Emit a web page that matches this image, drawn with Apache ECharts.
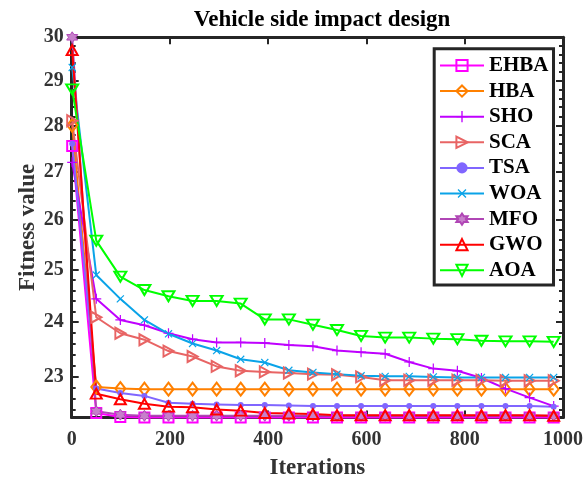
<!DOCTYPE html>
<html>
<head>
<meta charset="utf-8">
<script src="https://cdn.jsdelivr.net/npm/echarts@6/dist/echarts.min.js"></script>
<style>
  html, body { margin: 0; padding: 0; background: #fff; overflow: hidden; }
  #chart { width: 583px; height: 479px; }
</style>
</head>
<body>
<div id="chart"></div>
<script>
// Convergence curves (best fitness per iteration) for the vehicle side impact problem
const iterations = [1, 50, 99, 148, 197, 246, 295, 344, 393, 442, 491, 540, 589, 638, 687, 736, 785, 834, 883, 932, 981];

const EHBA = [27.55, 22.35, 22.28, 22.27, 22.27, 22.27, 22.27, 22.27, 22.27, 22.27, 22.27, 22.27, 22.27, 22.27, 22.27, 22.27, 22.27, 22.27, 22.27, 22.27, 22.27];
const HBA  = [28.00, 22.81, 22.78, 22.77, 22.77, 22.77, 22.77, 22.77, 22.77, 22.77, 22.77, 22.77, 22.77, 22.77, 22.77, 22.77, 22.77, 22.77, 22.77, 22.77, 22.77];
const SHO  = [27.20, 24.44, 24.04, 23.94, 23.79, 23.68, 23.62, 23.62, 23.61, 23.57, 23.55, 23.47, 23.44, 23.41, 23.26, 23.14, 23.10, 22.97, 22.78, 22.62, 22.47];
const SCA  = [28.10, 24.09, 23.79, 23.67, 23.46, 23.36, 23.18, 23.10, 23.08, 23.06, 23.04, 23.03, 22.99, 22.93, 22.93, 22.93, 22.93, 22.93, 22.92, 22.92, 22.92];
const TSA  = [27.60, 22.78, 22.70, 22.65, 22.53, 22.51, 22.50, 22.49, 22.49, 22.48, 22.47, 22.47, 22.47, 22.47, 22.47, 22.47, 22.47, 22.47, 22.47, 22.47, 22.46];
const WOA  = [29.30, 24.90, 24.44, 24.04, 23.78, 23.60, 23.47, 23.31, 23.25, 23.11, 23.07, 23.04, 23.01, 23.00, 23.00, 22.99, 22.98, 22.98, 22.98, 22.98, 22.98];
const MFO  = [30.00, 22.38, 22.32, 22.30, 22.30, 22.30, 22.30, 22.30, 22.30, 22.30, 22.30, 22.30, 22.30, 22.30, 22.30, 22.30, 22.30, 22.30, 22.30, 22.30, 22.30];
const GWO  = [29.70, 22.69, 22.59, 22.51, 22.46, 22.45, 22.41, 22.39, 22.35, 22.34, 22.33, 22.31, 22.31, 22.31, 22.31, 22.31, 22.31, 22.31, 22.31, 22.31, 22.30];
const AOA  = [28.80, 25.58, 24.87, 24.61, 24.49, 24.40, 24.40, 24.35, 24.05, 24.05, 23.95, 23.85, 23.74, 23.71, 23.71, 23.69, 23.68, 23.65, 23.64, 23.64, 23.63];

const xTicks = [0, 200, 400, 600, 800, 1000];
const yTicks = [23, 24, 25, 26, 27, 28, 29, 30];
const yMin = 22.27;
const yMax = 30;

// short ticks between the labelled ones on the log axis
const yMinorTicks = [];
for (let k = 112; k <= 149; k++) {
  const v = Math.round(k * 2) / 10;
  if (v % 1 !== 0 && v > yMin && v < yMax) yMinorTicks.push(v);
}

const FONT = '"Liberation Serif", "Times New Roman", serif';
const AXIS_COLOR = '#262626';

const PLUS = 'path://M-0.6,-5H0.6V-0.6H5V0.6H0.6V5H-0.6V0.6H-5V-0.6H-0.6Z';
const HEXAGRAM = 'path://M0,-5L1.44,-2.5L4.33,-2.5L2.89,0L4.33,2.5L1.44,2.5L0,5L-1.44,2.5L-4.33,2.5L-2.89,0L-4.33,-2.5L-1.44,-2.5Z';

function curve(name, values, color, symbol, opts) {
  opts = opts || {};
  return {
    name: name,
    type: 'line',
    data: iterations.map((it, i) => [it, values[i]]),
    symbol: symbol,
    symbolSize: opts.size || 10,
    symbolRotate: opts.rotate || 0,
    showAllSymbol: true,
    clip: false,
    lineStyle: { color: color, width: 2 },
    itemStyle: opts.filled
      ? { color: opts.fill || color, borderColor: color, borderWidth: opts.border || 0 }
      : { color: 'rgba(255,255,255,0)', borderColor: color, borderWidth: 2 },
    emphasis: { disabled: true },
    animation: false
  };
}

const series = [
  curve('EHBA', EHBA, '#FF00FF', 'rect', { size: 10 }),
  curve('HBA',  HBA,  '#FF8000', 'diamond', { size: [10, 13] }),
  curve('SHO',  SHO,  '#BF00FF', PLUS, { size: 10, filled: true }),
  curve('SCA',  SCA,  '#E86464', 'triangle', { size: [11, 10], rotate: -90 }),
  curve('TSA',  TSA,  '#8066FF', 'circle', { size: 6, filled: true }),
  curve('WOA',  WOA,  '#0AA3E8', PLUS, { size: 10, rotate: 45, filled: true }),
  curve('MFO',  MFO,  '#B046B5', HEXAGRAM, { size: 11, filled: true, fill: '#C77FCB', border: 1 }),
  curve('GWO',  GWO,  '#FF0000', 'triangle', { size: [11, 10] }),
  curve('AOA',  AOA,  '#00FF00', 'triangle', { size: [12, 10], rotate: 180 })
];

const labelStyle = { fontFamily: FONT, fontWeight: 'bold', fontSize: 20, color: '#333' };

function yAxisDef(position, ticks, len, showLine, showLabels) {
  return {
    type: 'log',
    logBase: 10,
    min: yMin,
    max: yMax,
    position: position,
    axisLine: { show: showLine, onZero: false, lineStyle: { color: AXIS_COLOR, width: 3 } },
    axisTick: { show: true, inside: true, length: len, customValues: ticks, lineStyle: { color: AXIS_COLOR, width: 2 } },
    axisLabel: showLabels
      ? Object.assign({ show: true, margin: 8, customValues: yTicks, formatter: v => String(Math.round(v)) }, labelStyle)
      : { show: false },
    splitLine: { show: false },
    minorTick: { show: false },
    name: showLabels ? 'Fitness value' : '',
    nameLocation: 'middle',
    nameGap: 32,
    nameMoveOverlap: false,
    nameRotate: 90,
    nameTextStyle: { fontFamily: FONT, fontWeight: 'bold', fontSize: 23, color: '#333' }
  };
}

const chart = echarts.init(document.getElementById('chart'), null, { renderer: 'canvas', width: 583, height: 479 });

chart.setOption({
  backgroundColor: '#ffffff',
  animation: false,
  title: {
    text: 'Vehicle side impact design',
    left: 317,
    textAlign: 'center',
    top: 4,
    textStyle: { fontFamily: FONT, fontWeight: 'bold', fontSize: 23, color: '#000' }
  },
  grid: { left: 71.7, right: 20, top: 37.3, bottom: 61.5, containLabel: false, outerBoundsMode: 'none' },
  legend: {
    orient: 'vertical',
    left: 434.2,
    top: 48.8,
    padding: [6.2, 5, 4.2, 4.8],
    itemWidth: 44,
    itemHeight: 14,
    itemGap: 4.6,
    backgroundColor: '#ffffff',
    borderColor: AXIS_COLOR,
    borderWidth: 3,
    borderRadius: 0,
    textStyle: { fontFamily: FONT, fontWeight: 'bold', fontSize: 21, color: '#000', lineHeight: 20 },
    data: series.map(s => s.name)
  },
  xAxis: [
    {
      type: 'value',
      min: 0,
      max: 1000,
      interval: 200,
      position: 'bottom',
      axisLine: { show: true, onZero: false, lineStyle: { color: AXIS_COLOR, width: 3 } },
      axisTick: { show: true, inside: true, length: 7, lineStyle: { color: AXIS_COLOR, width: 2 } },
      axisLabel: Object.assign({ show: true, margin: 12, customValues: xTicks, formatter: v => String(v) }, labelStyle),
      splitLine: { show: false },
      name: 'Iterations',
      nameLocation: 'middle',
      nameGap: 39,
      nameTextStyle: { fontFamily: FONT, fontWeight: 'bold', fontSize: 23, color: '#333' }
    },
    {
      type: 'value',
      min: 0,
      max: 1000,
      interval: 200,
      position: 'top',
      axisLine: { show: true, onZero: false, lineStyle: { color: AXIS_COLOR, width: 3 } },
      axisTick: { show: true, inside: true, length: 7, lineStyle: { color: AXIS_COLOR, width: 2 } },
      axisLabel: { show: false },
      splitLine: { show: false }
    }
  ],
  yAxis: [
    yAxisDef('left', yTicks, 7, true, true),
    yAxisDef('right', yTicks, 7, true, false),
    yAxisDef('left', yMinorTicks, 4, false, false),
    yAxisDef('right', yMinorTicks, 4, false, false)
  ],
  series: series
});
</script>
</body>
</html>
